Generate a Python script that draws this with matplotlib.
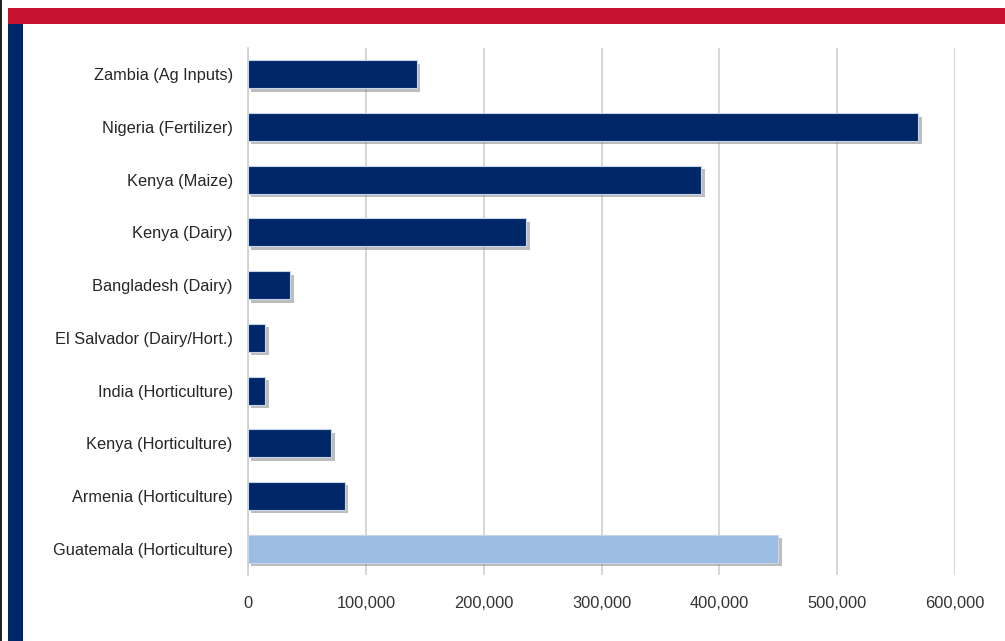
import matplotlib
matplotlib.use("Agg")
import matplotlib.pyplot as plt
import matplotlib.patheffects as pe
from matplotlib.patches import Rectangle
from matplotlib.ticker import FuncFormatter

categories = ["Zambia (Ag Inputs)", "Nigeria (Fertilizer)", "Kenya (Maize)", "Kenya (Dairy)",
              "Bangladesh (Dairy)", "El Salvador (Dairy/Hort.)", "India (Horticulture)",
              "Kenya (Horticulture)", "Armenia (Horticulture)", "Guatemala (Horticulture)"]
values = [143000, 569000, 384500, 236000, 35700, 14500, 14500, 70500, 82300, 450000]
bar_colors = ["#002868"] * 9 + ["#9BBDE3"]
xticks = [0, 100000, 200000, 300000, 400000, 500000, 600000]

plt.rcParams['font.family'] = ['Liberation Sans', 'DejaVu Sans']

W, H = 1005, 641
fig = plt.figure(figsize=(W / 100, H / 100), dpi=100)
fig.patch.set_facecolor("white")

# decorations
fig.patches.append(Rectangle((8 / W, 1 - 24 / H), 1 - 8 / W, 16 / H, transform=fig.transFigure,
                             facecolor="#C41230", edgecolor="none", zorder=0))
fig.patches.append(Rectangle((8 / W, 0), 15 / W, 1 - 24 / H, transform=fig.transFigure,
                             facecolor="#002868", edgecolor="none", zorder=0))
fig.patches.append(Rectangle((0, 0), 2 / W, 1, transform=fig.transFigure,
                             facecolor="#222222", edgecolor="none", zorder=0))

ax = fig.add_axes([248 / W, 1 - 575 / H, (955 - 248) / W, (575 - 48) / H])
ypos = list(range(len(categories)))
bars = ax.barh(ypos, values, height=0.53, color=bar_colors, edgecolor="#C8D4E8", linewidth=0.8,
               zorder=3)
for b in bars:
    b.set_path_effects([pe.SimplePatchShadow(offset=(2.5, -2.5), shadow_rgbFace="#888888", alpha=0.55),
                        pe.Normal()])
ax.set_ylim(len(categories) - 0.5, -0.5)
ax.set_xlim(0, 600000)
ax.set_yticks(ypos)
ax.set_yticklabels(categories, fontsize=11.8, color="#262626")
ax.set_xticks(xticks)
ax.xaxis.set_major_formatter(FuncFormatter(lambda v, p: f"{int(v):,}"))
ax.tick_params(axis="x", labelsize=11.8, colors="#333333", length=0, pad=15)
ax.tick_params(axis="y", length=0, pad=11)
ax.grid(axis="x", color="#D0D0D0", linewidth=1.2, zorder=0)
ax.set_axisbelow(True)
for s in ["top", "right", "bottom"]:
    ax.spines[s].set_visible(False)
ax.spines["left"].set_color("#D0D0D0")
ax.spines["left"].set_linewidth(1.2)
ax.set_facecolor("none")

fig.savefig("out.png", dpi=100, facecolor="white")
